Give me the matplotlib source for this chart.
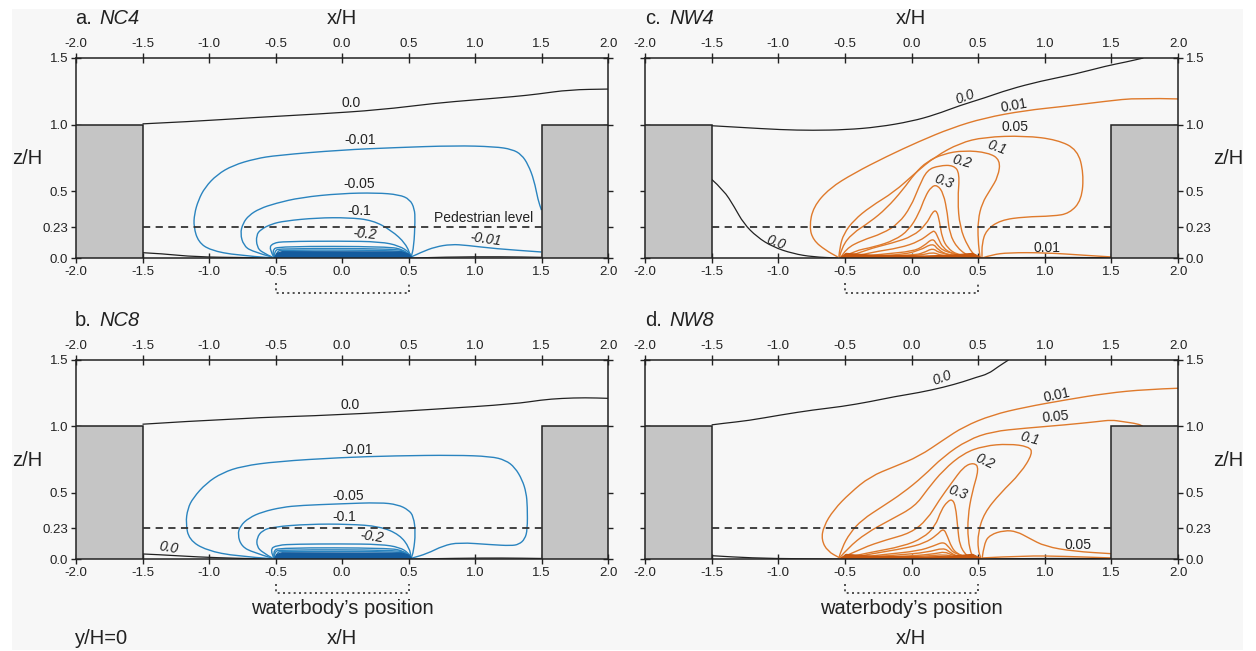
import matplotlib
matplotlib.use("Agg")
import matplotlib.pyplot as plt
from matplotlib.patches import Rectangle, Polygon, PathPatch
from matplotlib.path import Path

# ---- values: contour polylines as (x/H, z/H) ----
x_ticks = [-2.0, -1.5, -1.0, -0.5, 0.0, 0.5, 1.0, 1.5, 2.0]
z_ticks = [0.0, 0.23, 0.5, 1.0, 1.5]
z_ticklabels = ["0.0", "0.23", "0.5", "1.0", "1.5"]

# a. NC4
NC4_zero = [
    [(-1.50, 1.006), (-1.14, 1.023), (-0.67, 1.053), (-0.19, 1.079), (0.29, 1.111), (0.70, 1.161),
     (1.00, 1.186), (1.30, 1.211), (1.47, 1.229), (1.71, 1.262), (2.00, 1.267)],
    [(-1.50, 0.040), (-1.35, 0.032), (-1.10, 0.008), (-0.70, 0.003), (-0.52, 0.0)],
    [(0.53, 0.0), (0.80, 0.008), (1.20, 0.010), (1.50, 0.005)],
]
NC4_lines = [
    # -0.01
    [(-0.55, 0.003), (-0.79, 0.020), (-0.99, 0.058), (-1.08, 0.12), (-1.115, 0.233), (-1.11, 0.33),
     (-1.08, 0.434), (-1.03, 0.53), (-0.94, 0.625), (-0.82, 0.695), (-0.65, 0.745), (-0.49, 0.770),
     (-0.01, 0.810), (0.40, 0.828), (0.85, 0.843), (1.15, 0.835), (1.28, 0.815), (1.35, 0.775),
     (1.40, 0.70), (1.444, 0.584), (1.474, 0.434), (1.50, 0.359)],
    [(0.52, 0.008), (0.60, 0.045), (0.70, 0.083), (0.82, 0.103), (0.94, 0.095), (1.15, 0.070),
     (1.50, 0.045)],
    # -0.05
    [(-0.53, 0.008), (-0.68, 0.05), (-0.74, 0.095), (-0.765, 0.183), (-0.745, 0.26), (-0.70, 0.32),
     (-0.62, 0.37), (-0.50, 0.41), (-0.31, 0.454), (-0.01, 0.484), (0.26, 0.489), (0.43, 0.475),
     (0.51, 0.44), (0.545, 0.37), (0.55, 0.283), (0.54, 0.083), (0.52, 0.008)],
    # -0.1
    [(-0.52, 0.005), (-0.60, 0.04), (-0.64, 0.083), (-0.645, 0.171), (-0.61, 0.215), (-0.53, 0.255),
     (-0.43, 0.278), (-0.19, 0.301), (0.05, 0.303), (0.23, 0.283), (0.37, 0.208), (0.48, 0.108),
     (0.52, 0.005)],
    # -0.2
    [(-0.51, 0.003), (-0.55, 0.07), (-0.52, 0.112), (-0.43, 0.124), (-0.01, 0.127), (0.29, 0.122),
     (0.43, 0.092), (0.51, 0.04), (0.52, 0.003)],
    # inner
    [(-0.51, 0.0), (-0.53, 0.06), (-0.47, 0.088), (0.35, 0.086), (0.47, 0.06), (0.52, 0.0)],
    [(-0.51, 0.0), (-0.51, 0.055), (-0.46, 0.072), (0.40, 0.07), (0.49, 0.045), (0.52, 0.0)],
    [(-0.50, 0.0), (-0.49, 0.05), (-0.45, 0.06), (0.42, 0.058), (0.50, 0.035), (0.52, 0.0)],
]
NC4_band = [(-0.51, 0.0), (-0.49, 0.035), (-0.45, 0.048), (0.45, 0.046), (0.50, 0.03), (0.53, 0.0)]
NC4_labels = [(0.07, 1.166, "0.0", 0, False), (0.14, 0.885, "-0.01", 0, False),
              (0.13, 0.554, "-0.05", 0, False), (0.13, 0.354, "-0.1", 0, False),
              (0.17, 0.180, "-0.2", -5, True), (1.08, 0.138, "-0.01", -8, True)]

# b. NC8
NC8_zero = [
    [(-1.50, 1.016), (-0.79, 1.061), (-0.01, 1.086), (0.70, 1.129), (1.30, 1.169), (1.50, 1.199),
     (1.65, 1.211), (1.83, 1.216), (2.00, 1.211)],
    [(-1.50, 0.038), (-1.38, 0.033), (-1.08, 0.015), (-0.79, 0.005), (-0.52, 0.0)],
    [(0.53, 0.0), (0.90, 0.006), (1.20, 0.008), (1.50, 0.004)],
]
NC8_lines = [
    # -0.01
    [(-0.53, 0.003), (-0.79, 0.020), (-1.02, 0.065), (-1.15, 0.145), (-1.175, 0.271), (-1.16, 0.38),
     (-1.12, 0.46), (-1.02, 0.572), (-0.90, 0.65), (-0.75, 0.70), (-0.49, 0.735), (-0.01, 0.765),
     (0.40, 0.778), (0.85, 0.783), (1.12, 0.773), (1.23, 0.745), (1.30, 0.69), (1.355, 0.597),
     (1.385, 0.50), (1.394, 0.396), (1.394, 0.221), (1.375, 0.15), (1.33, 0.11), (1.27, 0.100),
     (1.12, 0.108), (0.88, 0.125), (0.76, 0.100), (0.64, 0.040), (0.52, 0.005)],
    # -0.05
    [(-0.53, 0.008), (-0.67, 0.05), (-0.755, 0.095), (-0.785, 0.183), (-0.765, 0.25), (-0.70, 0.31),
     (-0.60, 0.355), (-0.45, 0.39), (-0.31, 0.404), (-0.01, 0.416), (0.285, 0.426), (0.42, 0.41),
     (0.50, 0.37), (0.538, 0.321), (0.553, 0.196), (0.538, 0.058), (0.52, 0.005)],
    # -0.1
    [(-0.52, 0.005), (-0.60, 0.05), (-0.64, 0.095), (-0.64, 0.16), (-0.60, 0.215), (-0.517, 0.242),
     (-0.25, 0.263), (0.05, 0.263), (0.285, 0.246), (0.434, 0.183), (0.508, 0.083), (0.52, 0.005)],
    # -0.2
    [(-0.51, 0.003), (-0.545, 0.07), (-0.49, 0.105), (-0.34, 0.112), (-0.01, 0.114), (0.29, 0.111),
     (0.434, 0.088), (0.50, 0.045), (0.52, 0.003)],
    # inner
    [(-0.51, 0.0), (-0.52, 0.06), (-0.47, 0.085), (0.35, 0.083), (0.47, 0.06), (0.52, 0.0)],
    [(-0.51, 0.0), (-0.51, 0.055), (-0.46, 0.07), (0.40, 0.068), (0.49, 0.045), (0.52, 0.0)],
    [(-0.50, 0.0), (-0.49, 0.05), (-0.45, 0.058), (0.42, 0.057), (0.50, 0.035), (0.52, 0.0)],
]
NC8_band = [(-0.51, 0.0), (-0.49, 0.035), (-0.45, 0.047), (0.45, 0.045), (0.50, 0.03), (0.53, 0.0)]
NC8_labels = [(0.06, 1.161, "0.0", 0, False), (0.11, 0.823, "-0.01", 0, False),
              (0.05, 0.477, "-0.05", 0, False), (0.02, 0.316, "-0.1", 0, False),
              (0.22, 0.168, "-0.2", -8, True), (-1.30, 0.083, "0.0", -10, True)]

# c. NW4
NW4_zero = [
    [(-1.50, 0.992), (-1.29, 0.980), (-0.98, 0.962), (-0.74, 0.957), (-0.49, 0.962), (-0.25, 0.982),
     (0.0, 1.025), (0.18, 1.075), (0.36, 1.143), (0.55, 1.201), (0.73, 1.264), (0.97, 1.327),
     (1.22, 1.377), (1.46, 1.440), (1.61, 1.470), (1.74, 1.500)],
    [(-1.50, 0.590), (-1.41, 0.510), (-1.33, 0.384), (-1.26, 0.259), (-1.16, 0.158), (-1.04, 0.083),
     (-0.89, 0.033), (-0.74, 0.008), (-0.55, 0.0)],
    [(0.53, 0.0), (0.90, 0.004), (1.20, 0.004), (1.50, 0.002)],
]
NW4_lines = [
    # 0.01
    [(2.00, 1.193), (1.70, 1.201), (1.46, 1.176), (1.155, 1.138), (0.85, 1.106), (0.545, 1.050),
     (0.30, 0.975), (0.056, 0.874), (-0.188, 0.761), (-0.432, 0.636), (-0.615, 0.523), (-0.737, 0.384),
     (-0.767, 0.234), (-0.737, 0.133), (-0.645, 0.058), (-0.554, 0.008)],
    [(0.529, 0.0), (0.606, 0.025), (0.728, 0.040), (1.002, 0.040), (1.307, 0.020), (1.50, 0.008)],
    # 0.05
    [(-0.545, 0.008), (-0.538, 0.083), (-0.508, 0.183), (-0.432, 0.284), (-0.31, 0.384), (-0.127, 0.497),
     (0.026, 0.636), (0.178, 0.761), (0.362, 0.862), (0.545, 0.907), (0.85, 0.917), (1.094, 0.887),
     (1.246, 0.812), (1.292, 0.636), (1.277, 0.435), (1.185, 0.334), (1.063, 0.314), (0.85, 0.309),
     (0.667, 0.284), (0.56, 0.209), (0.529, 0.108), (0.529, 0.008)],
    # 0.1
    [(-0.54, 0.008), (-0.523, 0.083), (-0.447, 0.183), (-0.31, 0.271), (-0.188, 0.372), (-0.066, 0.51),
     (0.026, 0.636), (0.117, 0.724), (0.24, 0.781), (0.392, 0.807), (0.575, 0.791), (0.667, 0.736),
     (0.651, 0.611), (0.59, 0.51), (0.529, 0.41), (0.499, 0.284), (0.499, 0.133), (0.514, 0.008)],
    # 0.2
    [(-0.53, 0.005), (-0.493, 0.07), (-0.371, 0.133), (-0.218, 0.183), (-0.096, 0.259), (-0.005, 0.384),
     (0.056, 0.535), (0.117, 0.661), (0.209, 0.693), (0.316, 0.696), (0.362, 0.636), (0.346, 0.435),
     (0.362, 0.234), (0.423, 0.083), (0.484, 0.008)],
    # 0.3
    [(-0.52, 0.005), (-0.432, 0.053), (-0.279, 0.083), (-0.127, 0.133), (-0.02, 0.209), (0.056, 0.334),
     (0.102, 0.46), (0.148, 0.535), (0.194, 0.548), (0.24, 0.485), (0.27, 0.334), (0.285, 0.183),
     (0.346, 0.07), (0.44, 0.008)],
    # inner
    [(-0.50, 0.0), (-0.34, 0.063), (-0.14, 0.113), (0.01, 0.163), (0.11, 0.25), (0.16, 0.35),
     (0.19, 0.355), (0.21, 0.275), (0.23, 0.15), (0.27, 0.075), (0.34, 0.025), (0.48, 0.0)],
    [(-0.49, 0.0), (-0.29, 0.045), (-0.09, 0.075), (0.06, 0.125), (0.15, 0.195), (0.175, 0.205),
     (0.20, 0.15), (0.235, 0.075), (0.31, 0.03), (0.47, 0.0)],
    [(-0.49, 0.0), (-0.21, 0.03), (0.01, 0.05), (0.09, 0.088), (0.16, 0.15), (0.19, 0.10),
     (0.25, 0.045), (0.46, 0.0)],
    [(-0.48, 0.0), (-0.10, 0.02), (0.06, 0.055), (0.16, 0.113), (0.20, 0.06), (0.28, 0.02), (0.46, 0.0)],
    [(-0.48, 0.0), (0.01, 0.02), (0.09, 0.038), (0.16, 0.075), (0.21, 0.035), (0.45, 0.0)],
    [(-0.47, 0.0), (0.06, 0.016), (0.16, 0.045), (0.23, 0.015), (0.45, 0.0)],
]
NW4_band = [(-0.54, 0.0), (-0.49, 0.035), (-0.3, 0.022), (0.1, 0.015), (0.3, 0.022), (0.46, 0.035),
            (0.53, 0.0)]
NW4_labels = [(0.40, 1.209, "0.0", 20, True), (0.77, 1.143, "0.01", 10, False),
              (0.78, 0.980, "0.05", 0, False), (0.64, 0.832, "0.1", -20, True),
              (0.38, 0.719, "0.2", -15, True), (0.24, 0.573, "0.3", -20, True),
              (-1.02, 0.113, "0.0", -20, True), (1.02, 0.078, "0.01", 0, False)]

# d. NW8
NW8_zero = [
    [(-1.50, 1.011), (-1.41, 1.023), (-1.225, 1.043), (-0.981, 1.086), (-0.737, 1.124), (-0.523, 1.149),
     (-0.31, 1.186), (-0.127, 1.224), (0.056, 1.254), (0.24, 1.294), (0.392, 1.337), (0.484, 1.369),
     (0.575, 1.395), (0.651, 1.45), (0.728, 1.50)],
    [(-1.50, 0.025), (-1.347, 0.015), (-1.042, 0.003), (-0.54, 0.0)],
    [(0.53, 0.0), (0.90, 0.004), (1.20, 0.004), (1.50, 0.002)],
]
NW8_lines = [
    # 0.01
    [(2.00, 1.287), (1.765, 1.279), (1.46, 1.249), (1.155, 1.199), (0.85, 1.144), (0.606, 1.086),
     (0.392, 0.998), (0.24, 0.898), (0.056, 0.773), (-0.127, 0.697), (-0.31, 0.622), (-0.462, 0.497),
     (-0.584, 0.371), (-0.66, 0.246), (-0.676, 0.145), (-0.63, 0.058), (-0.538, 0.008)],
    [(0.529, 0.008), (0.85, 0.025), (1.155, 0.020), (1.50, 0.008)],
    # 0.05
    [(-0.545, 0.008), (-0.523, 0.083), (-0.462, 0.196), (-0.371, 0.296), (-0.218, 0.396), (-0.066, 0.497),
     (0.087, 0.622), (0.24, 0.773), (0.423, 0.898), (0.606, 0.961), (0.85, 0.986), (1.155, 1.011),
     (1.399, 1.036), (1.50, 1.048), (1.582, 1.036), (1.704, 1.018), (1.735, 1.0)],
    [(0.53, 0.005), (0.545, 0.12), (0.59, 0.183), (0.697, 0.216), (0.789, 0.208), (0.881, 0.158),
     (1.002, 0.095), (1.216, 0.058), (1.50, 0.040)],
    # 0.1
    [(-0.54, 0.008), (-0.477, 0.083), (-0.34, 0.196), (-0.157, 0.296), (0.026, 0.396), (0.117, 0.522),
     (0.24, 0.672), (0.392, 0.798), (0.545, 0.853), (0.728, 0.868), (0.88, 0.848), (0.911, 0.798),
     (0.819, 0.647), (0.667, 0.497), (0.545, 0.346), (0.499, 0.196), (0.499, 0.07), (0.52, 0.008)],
    # 0.2
    [(-0.53, 0.005), (-0.371, 0.083), (-0.188, 0.145), (-0.005, 0.196), (0.117, 0.296), (0.209, 0.446),
     (0.30, 0.572), (0.392, 0.697), (0.468, 0.727), (0.508, 0.685), (0.453, 0.497), (0.423, 0.321),
     (0.423, 0.145), (0.453, 0.020), (0.47, 0.0)],
    # 0.3
    [(-0.52, 0.005), (-0.31, 0.05), (-0.066, 0.095), (0.087, 0.158), (0.178, 0.246), (0.224, 0.371),
     (0.27, 0.434), (0.307, 0.451), (0.331, 0.396), (0.346, 0.246), (0.362, 0.095), (0.423, 0.015),
     (0.45, 0.0)],
    # inner
    [(-0.50, 0.0), (-0.30, 0.04), (-0.05, 0.08), (0.10, 0.12), (0.19, 0.18), (0.24, 0.233), (0.27, 0.17),
     (0.30, 0.09), (0.34, 0.04), (0.42, 0.01), (0.49, 0.0)],
    [(-0.50, 0.0), (-0.20, 0.035), (0.05, 0.06), (0.17, 0.10), (0.24, 0.13), (0.28, 0.09), (0.32, 0.04),
     (0.48, 0.0)],
    [(-0.49, 0.0), (-0.10, 0.03), (0.12, 0.05), (0.24, 0.085), (0.29, 0.05), (0.34, 0.02), (0.47, 0.0)],
    [(-0.49, 0.0), (0.0, 0.022), (0.18, 0.04), (0.25, 0.055), (0.30, 0.03), (0.46, 0.0)],
    [(-0.48, 0.0), (0.10, 0.02), (0.25, 0.035), (0.32, 0.015), (0.46, 0.0)],
]
NW8_band = [(-0.54, 0.0), (-0.49, 0.035), (-0.3, 0.022), (0.1, 0.015), (0.3, 0.022), (0.46, 0.035),
            (0.53, 0.0)]
NW8_labels = [(0.23, 1.362, "0.0", 20, True), (1.09, 1.236, "0.01", 12, False),
              (1.08, 1.073, "0.05", 5, False), (0.89, 0.910, "0.1", -15, True),
              (0.55, 0.735, "0.2", -25, True), (0.35, 0.502, "0.3", -20, True),
              (1.25, 0.108, "0.05", 0, False)]

# ---- styling ----
BLUE, BLUE_DARK = "#2a84bf", "#145c9e"
ORANGE, ORANGE_DARK = "#df7a2c", "#c9580f"
INK = "#222222"
BG = "#f7f7f7"

plt.rcParams["font.family"] = ["Liberation Sans", "DejaVu Sans"]


def smooth(pts):
    # quadratic bezier through the midpoints, read points act as control points
    verts = [pts[0]]
    codes = [Path.MOVETO]
    for i in range(1, len(pts) - 1):
        mid = ((pts[i][0] + pts[i + 1][0]) / 2, (pts[i][1] + pts[i + 1][1]) / 2)
        verts += [pts[i], mid]
        codes += [Path.CURVE3, Path.CURVE3]
    verts.append(pts[-1])
    codes.append(Path.LINETO)
    return Path(verts, codes)


def draw_panel(ax, zero_lines, lines, band, labels, color, dark, side):
    ax.set_facecolor(BG)
    for ln in zero_lines:
        ax.add_patch(PathPatch(smooth(ln), fill=False, edgecolor=INK, lw=0.9, zorder=2))
    for ln in lines:
        ax.add_patch(PathPatch(smooth(ln), fill=False, edgecolor=color, lw=1.0, zorder=2))
    ax.add_patch(Polygon(band, closed=True, facecolor=dark, edgecolor=dark, lw=0.8, zorder=2))
    for x, z, txt, rot, it in labels:
        ax.text(x, z, txt, ha="center", va="center", fontsize=10, rotation=rot,
                style="italic" if it else "normal", color=INK, zorder=4)

    # buildings
    for x0 in (-2.0, 1.5):
        ax.add_patch(Rectangle((x0, 0.0), 0.5, 1.0, facecolor="#c5c5c5", edgecolor=INK,
                               lw=1.1, zorder=3))
    # pedestrian level
    ax.plot([-1.5, 1.5], [0.23, 0.23], color="#333333", lw=1.3, dashes=(4, 3), zorder=3)
    # waterbody bracket
    ax.plot([-0.5, -0.5, 0.5, 0.5], [-0.19, -0.26, -0.26, -0.19], color="#333333", lw=1.2,
            ls=(0, (1.2, 2.0)), clip_on=False)

    ax.set_xlim(-2, 2)
    ax.set_ylim(0, 1.5)
    ax.set_xticks(x_ticks)
    ax.set_xticklabels([f"{v:.1f}" for v in x_ticks])
    ax.set_yticks(z_ticks)
    ax.set_yticklabels(z_ticklabels)
    ax.tick_params(direction="inout", length=7, width=1.0, labelsize=9.5, colors=INK,
                   top=True, right=True, labeltop=True, labelbottom=True,
                   labelleft=(side == "left"), labelright=(side == "right"), pad=2)
    for sp in ax.spines.values():
        sp.set_linewidth(1.1)
        sp.set_color(INK)


W, H = 1256, 651
fig = plt.figure(figsize=(W / 100, H / 100), dpi=100)
fig.patches.append(Rectangle((12 / W, 1 / H), 1231 / W, 641 / H, transform=fig.transFigure,
                             facecolor=BG, edgecolor="none", zorder=-5))


def box(l, t, r, b):
    return [l / W, 1 - b / H, (r - l) / W, (b - t) / H]


ax_a = fig.add_axes(box(76, 58, 608, 258))
ax_c = fig.add_axes(box(645, 58, 1178, 258))
ax_b = fig.add_axes(box(76, 360, 608, 559))
ax_d = fig.add_axes(box(645, 360, 1178, 559))

draw_panel(ax_a, NC4_zero, NC4_lines, NC4_band, NC4_labels, BLUE, BLUE_DARK, "left")
draw_panel(ax_b, NC8_zero, NC8_lines, NC8_band, NC8_labels, BLUE, BLUE_DARK, "left")
draw_panel(ax_c, NW4_zero, NW4_lines, NW4_band, NW4_labels, ORANGE, ORANGE_DARK, "right")
draw_panel(ax_d, NW8_zero, NW8_lines, NW8_band, NW8_labels, ORANGE, ORANGE_DARK, "right")

ax_a.text(1.44, 0.30, "Pedestrian level", ha="right", va="center", fontsize=10, color=INK, zorder=4)


def ftext(x, y, s, **kw):
    fig.text(x / W, 1 - y / H, s, color=INK, **kw)


# panel titles
for (x, y, letter, name) in [(75, 19, "a.", "NC4"), (75, 321, "b.", "NC8"),
                             (645, 19, "c.", "NW4"), (645, 321, "d.", "NW8")]:
    ftext(x, y, letter, fontsize=14.5, ha="left", va="center")
    ftext(x + 24, y, name, fontsize=14.5, ha="left", va="center", style="italic")

# axis titles
ftext(342, 19, "x/H", fontsize=14.5, ha="center", va="center")
ftext(911, 19, "x/H", fontsize=14.5, ha="center", va="center")
ftext(342, 639, "x/H", fontsize=14.5, ha="center", va="center")
ftext(911, 639, "x/H", fontsize=14.5, ha="center", va="center")
ftext(27, 158, "z/H", fontsize=14.5, ha="center", va="center")
ftext(27, 460, "z/H", fontsize=14.5, ha="center", va="center")
ftext(1228, 159, "z/H", fontsize=14.5, ha="center", va="center")
ftext(1228, 460, "z/H", fontsize=14.5, ha="center", va="center")
ftext(342, 608, "waterbody\u2019s position", fontsize=14.5, ha="center", va="center")
ftext(911, 608, "waterbody\u2019s position", fontsize=14.5, ha="center", va="center")
ftext(75, 638, "y/H=0", fontsize=14.5, ha="left", va="center")

fig.savefig("out.png", dpi=100, facecolor="white")
